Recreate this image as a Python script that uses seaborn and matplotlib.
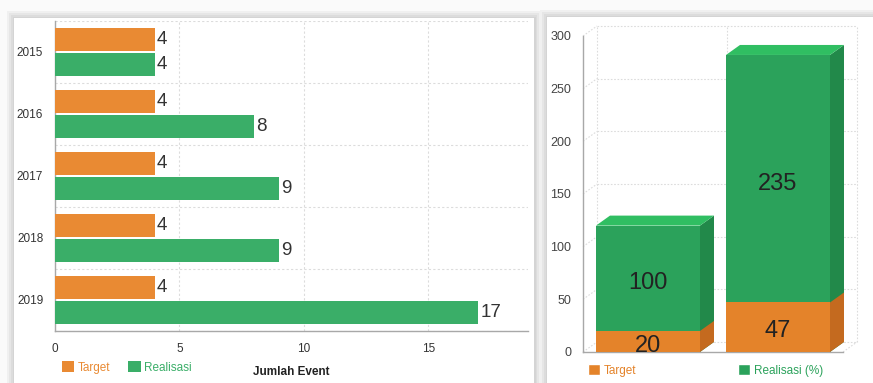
import numpy as np
import pandas as pd
import matplotlib
matplotlib.use("Agg")
import matplotlib.pyplot as plt
from matplotlib.patches import Rectangle, Polygon, Patch
import seaborn as sns

# ---- data -------------------------------------------------------------
years = ["2015", "2016", "2017", "2018", "2019"]
target_events = [4, 4, 4, 4, 4]
realisasi_events = [4, 8, 9, 9, 17]

pct_groups = ["A", "B"]
pct_target = [20, 47]
pct_realisasi = [100, 235]

# ---- style ------------------------------------------------------------
sns.set_style("white")
plt.rcParams["font.family"] = ["Liberation Sans", "DejaVu Sans"]

ORANGE = "#E98A33"
GREEN = "#3AAE68"
ORANGE_FRONT = "#E4832A"
ORANGE_SIDE = "#C46A1F"
GREEN_FRONT = "#2BA25B"
GREEN_SIDE = "#22894A"
GREEN_TOP = "#30BE62"
GRID = "#DCDCDC"
SPINE = "#A8A8A8"
TXT = "#333333"

W, H = 873, 383
fig = plt.figure(figsize=(W / 100, H / 100), dpi=100, facecolor="#FAFAFA")


def frac_rect(x0, y0, x1, y1):
    """Pixel box (origin top-left) -> figure-fraction [left, bottom, w, h]."""
    return [x0 / W, 1 - y1 / H, (x1 - x0) / W, (y1 - y0) / H]


def card(x0, y0, x1, y1):
    for pad, col in [(7, "#F0F0F0"), (5, "#E6E6E6"), (3, "#DCDCDC"), (1.5, "#D4D4D4")]:
        l, b, w, h = frac_rect(x0 - pad, y0 - pad, x1 + pad, y1 + pad)
        fig.add_artist(Rectangle((l, b), w, h, transform=fig.transFigure,
                                 facecolor=col, edgecolor="none", zorder=-10))
    l, b, w, h = frac_rect(x0, y0, x1, y1)
    fig.add_artist(Rectangle((l, b), w, h, transform=fig.transFigure,
                             facecolor="white", edgecolor="none", zorder=-9))


card(14, 18, 534, 400)
card(547, 17, 890, 400)

# ---- left: events per year -------------------------------------------
axL = fig.add_axes(frac_rect(55, 21, 528, 331))
axL.set_facecolor("none")
df = pd.DataFrame({
    "Tahun": years * 2,
    "Jumlah": target_events + realisasi_events,
    "Seri": ["Target"] * len(years) + ["Realisasi"] * len(years),
})
sns.barplot(data=df, y="Tahun", x="Jumlah", hue="Seri",
            hue_order=["Target", "Realisasi"], palette=[ORANGE, GREEN],
            orient="h", width=0.8, gap=0.1, saturation=1,
            linewidth=0, ax=axL, zorder=3)
for cont in axL.containers:
    axL.bar_label(cont, fmt="%d", padding=1.5, fontsize=13.5, color=TXT)

axL.set_xlim(0, 19)
axL.set_ylim(4.5, -0.5)
axL.set_xticks([0, 5, 10, 15])
axL.set_yticks(np.arange(-0.5, len(years), 1), minor=True)
axL.grid(axis="x", which="major", linestyle=(0, (2, 2)), color=GRID, linewidth=0.8, zorder=0)
axL.grid(axis="y", which="minor", linestyle=(0, (2, 2)), color=GRID, linewidth=0.8, zorder=0)
axL.tick_params(axis="y", which="minor", length=0)
axL.tick_params(axis="both", which="major", labelsize=8.5, labelcolor=TXT,
                color=SPINE, length=5, width=0.8, direction="out")
axL.set_ylabel("")
axL.set_xlabel("Jumlah Event", fontsize=8.5, fontweight="bold", color="#222222")
axL.xaxis.set_label_coords(0.5, -0.112)
for s in ["top", "right"]:
    axL.spines[s].set_visible(False)
for s in ["left", "bottom"]:
    axL.spines[s].set_color(SPINE)
    axL.spines[s].set_linewidth(1)

handles, labels = axL.get_legend_handles_labels()
axL.legend(handles, labels, loc="upper left",
           bbox_to_anchor=(62 / W, 1 - 361 / H), bbox_transform=fig.transFigure,
           ncol=2, frameon=False, fontsize=8.5, handlelength=1.05, handleheight=1.05,
           handletextpad=0.3, columnspacing=1.5, borderpad=0, borderaxespad=0,
           labelcolor=[ORANGE, GREEN])

# ---- right: percentage, stacked 3D-style columns ----------------------
axR = fig.add_axes(frac_rect(583, 36, 843, 352))
axR.set_facecolor("none")
totals = [t + r for t, r in zip(pct_target, pct_realisasi)]
sns.barplot(x=pct_groups, y=totals, color=GREEN_FRONT, saturation=1,
            width=0.8, linewidth=0, ax=axR, zorder=3)
sns.barplot(x=pct_groups, y=pct_target, color=ORANGE_FRONT, saturation=1,
            width=0.8, linewidth=0, ax=axR, zorder=5)
axR.set_xlim(-0.5, 1.5)
axR.set_ylim(0, 300)

# depth offset of the columns (pixels -> data units)
fig.canvas.draw()
bb = axR.get_window_extent()
dx = 14 * (axR.get_xlim()[1] - axR.get_xlim()[0]) / bb.width
dy = 10 * (axR.get_ylim()[1] - axR.get_ylim()[0]) / bb.height

green_bars, orange_bars = axR.containers[0], axR.containers[1]
for bar in green_bars:
    x, w, y0, h = bar.get_x(), bar.get_width(), bar.get_y(), bar.get_height()
    axR.add_patch(Polygon([(x + w, y0), (x + w + dx, y0 + dy), (x + w + dx, y0 + h + dy), (x + w, y0 + h)],
                          closed=True, facecolor=GREEN_SIDE, edgecolor="none", zorder=3, clip_on=False))
    axR.add_patch(Polygon([(x, y0 + h), (x + dx, y0 + h + dy), (x + w + dx, y0 + h + dy), (x + w, y0 + h)],
                          closed=True, facecolor=GREEN_TOP, edgecolor="none", zorder=3, clip_on=False))
for bar in orange_bars:
    x, w, y0, h = bar.get_x(), bar.get_width(), bar.get_y(), bar.get_height()
    axR.add_patch(Polygon([(x + w, y0), (x + w + dx, y0 + dy), (x + w + dx, y0 + h + dy), (x + w, y0 + h)],
                          closed=True, facecolor=ORANGE_SIDE, edgecolor="none", zorder=4, clip_on=False))

# back wall grid
xl, xr = axR.get_xlim()
gkw = dict(color=GRID, linewidth=0.8, linestyle=(0, (1.5, 1.5)), zorder=1, clip_on=False)
yt = [0, 50, 100, 150, 200, 250, 300]
for v in yt:
    axR.plot([xl, xl + dx], [v, v + dy], **gkw)
    axR.plot([xl + dx, xr + dx], [v + dy, v + dy], **gkw)
for xv in [xl, xl + 1, xr]:
    axR.plot([xv + dx, xv + dx], [dy, 300 + dy], **gkw)
axR.plot([xr, xr + dx], [0, dy], **gkw)

# segment labels
for i, bar in enumerate(orange_bars):
    cx = bar.get_x() + bar.get_width() / 2
    axR.annotate(f"{pct_target[i]}", (cx, pct_target[i] / 2), xytext=(0, -3),
                 textcoords="offset points", ha="center", va="center",
                 fontsize=17, color="#222222", zorder=6)
    axR.annotate(f"{pct_realisasi[i]}", (cx, pct_target[i] + pct_realisasi[i] / 2),
                 xytext=(0, -3.5), textcoords="offset points", ha="center", va="center",
                 fontsize=17, color="#222222", zorder=6)

axR.set_yticks(yt)
axR.set_xticks([0, 1])
axR.set_xticklabels(["", ""])
axR.tick_params(axis="both", labelsize=9, labelcolor="#444444", color=SPINE,
                length=5, width=0.8, direction="out")
for s in ["top", "right"]:
    axR.spines[s].set_visible(False)
for s in ["left", "bottom"]:
    axR.spines[s].set_color(SPINE)
    axR.spines[s].set_linewidth(1)

axR.legend([Patch(facecolor=ORANGE_FRONT), Patch(facecolor=GREEN_FRONT)],
           ["Target", "Realisasi (%)"], loc="upper left",
           bbox_to_anchor=(588 / W, 1 - 364 / H), bbox_transform=fig.transFigure,
           ncol=2, frameon=False, fontsize=8.5, handlelength=1.05, handleheight=1.05,
           handletextpad=0.3, columnspacing=8.6, borderpad=0, borderaxespad=0,
           labelcolor=[ORANGE_FRONT, GREEN_FRONT])

fig.savefig("out.png", dpi=100, facecolor=fig.get_facecolor())
